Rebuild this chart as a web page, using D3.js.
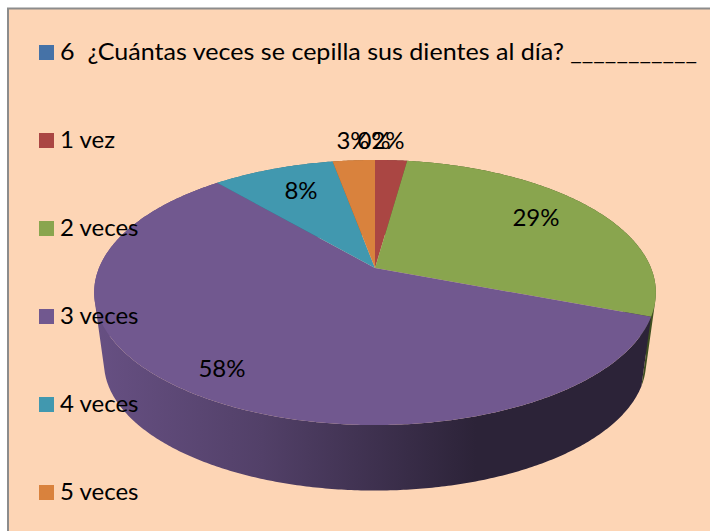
<!DOCTYPE html>
<html>
<head>
<meta charset="utf-8">
<script src="https://cdnjs.cloudflare.com/ajax/libs/d3/7.8.5/d3.min.js"></script>
<style>
  html, body { margin: 0; padding: 0; background: #fff; }
  svg { display: block; }
  text { font-family: Lato, "Open Sans", sans-serif; fill: #000; }
</style>
</head>
<body>
<svg id="chart"></svg>
<script>
const categories = ["6  ¿Cuántas veces se cepilla sus dientes al día? ___________", "1 vez", "2 veces", "3 veces", "4 veces", "5 veces"];
const values = [0, 2.2, 28.6, 57.9, 8.4, 2.9];
const percentLabels = ["0%", "2%", "29%", "58%", "8%", "3%"];
const colors = ["#4572a7", "#aa4643", "#89a54e", "#71588f", "#4198af", "#d9823d"];
const wallDark = ["#2a4566", "#672a28", "#3f4f20", "#2c2338", "#27606f", "#8a5020"];

const width = 710, height = 531;
const fontSize = 24;

const svg = d3.select("#chart").attr("width", width).attr("height", height);
const defs = svg.append("defs");

// frame
svg.append("rect")
    .attr("x", 8).attr("y", 8.5)
    .attr("width", width).attr("height", height)
    .attr("fill", "#fdd5b5")
    .attr("stroke", "#8c8c8c")
    .attr("stroke-width", 2);

// perspective projection of the disc, far side is squeezed
const k = 0.185;
function project(angle, r, cy, scale) {
    const u = Math.sin(angle) * r, v = Math.cos(angle) * r;
    const w = 1 + k * v;
    return [375 + scale * 276 * u / w, cy - scale * 128 * v / w];
}
const topY = 268, bottomY = 339, bottomScale = 0.965;

const pie = d3.pie().sort(null).value(d => d);
const slices = pie(values);
const line = d3.line();

function rim(s, cy, scale) {
    const n = Math.max(2, Math.ceil((s.endAngle - s.startAngle) / 0.01));
    return d3.range(n + 1).map(i => {
        const a = s.startAngle + (s.endAngle - s.startAngle) * i / n;
        return project(a, 1, cy, scale);
    });
}

// wall of a slice, one small quad per rim step so the silhouette is filled
function wallPath(s) {
    const a = rim(s, topY, 1), b = rim(s, bottomY, bottomScale);
    return d3.range(a.length - 1).map(i => {
        const hull = d3.polygonHull([a[i], a[i + 1], b[i + 1], b[i]]);
        return hull ? line(hull) + "Z" : "";
    }).join("");
}

// wall shading runs dark to the right
slices.forEach((s, i) => {
    const g = defs.append("linearGradient")
        .attr("id", "wall" + i)
        .attr("gradientUnits", "userSpaceOnUse")
        .attr("x1", 94).attr("x2", 656).attr("y1", 0).attr("y2", 0);
    g.append("stop").attr("offset", 0).attr("stop-color", d3.color(colors[i]).darker(0.25));
    g.append("stop").attr("offset", 0.3).attr("stop-color", d3.color(colors[i]).darker(0.9));
    g.append("stop").attr("offset", 0.68).attr("stop-color", wallDark[i]);
    g.append("stop").attr("offset", 1).attr("stop-color", wallDark[i]);
});

// side walls first, top faces cover the back ones
svg.append("g").selectAll("path")
    .data(slices)
    .join("path")
    .attr("d", wallPath)
    .attr("fill", (s, i) => `url(#wall${i})`);

svg.append("g").selectAll("path")
    .data(slices)
    .join("path")
    .attr("d", s => line([[375, topY]].concat(rim(s, topY, 1))) + "Z")
    .attr("fill", (s, i) => colors[i]);

// legend
const legendY = d3.scalePoint().domain(categories).range([52.5, 492.5]);
const legend = svg.append("g").selectAll("g")
    .data(categories)
    .join("g")
    .attr("transform", d => `translate(39,${legendY(d)})`);
legend.append("rect")
    .attr("y", -7.5).attr("width", 15).attr("height", 15)
    .attr("fill", (d, i) => colors[i]);
legend.append("text")
    .attr("x", 21).attr("y", 7.5)
    .attr("font-size", fontSize)
    .style("white-space", "pre")
    .text(d => d);

// percent labels
const labelPos = [[374, 141], [388, 141], [536, 218], [222, 369], [301, 191], [353, 141]];
svg.append("g").selectAll("text")
    .data(percentLabels)
    .join("text")
    .attr("x", (d, i) => labelPos[i][0])
    .attr("y", (d, i) => labelPos[i][1] + 8)
    .attr("text-anchor", "middle")
    .attr("font-size", fontSize)
    .text(d => d);

// long legend line has to end where the original does
svg.selectAll("text")
    .filter(d => d === categories[0])
    .attr("lengthAdjust", "spacingAndGlyphs")
    .attr("textLength", 637);
</script>
</body>
</html>
